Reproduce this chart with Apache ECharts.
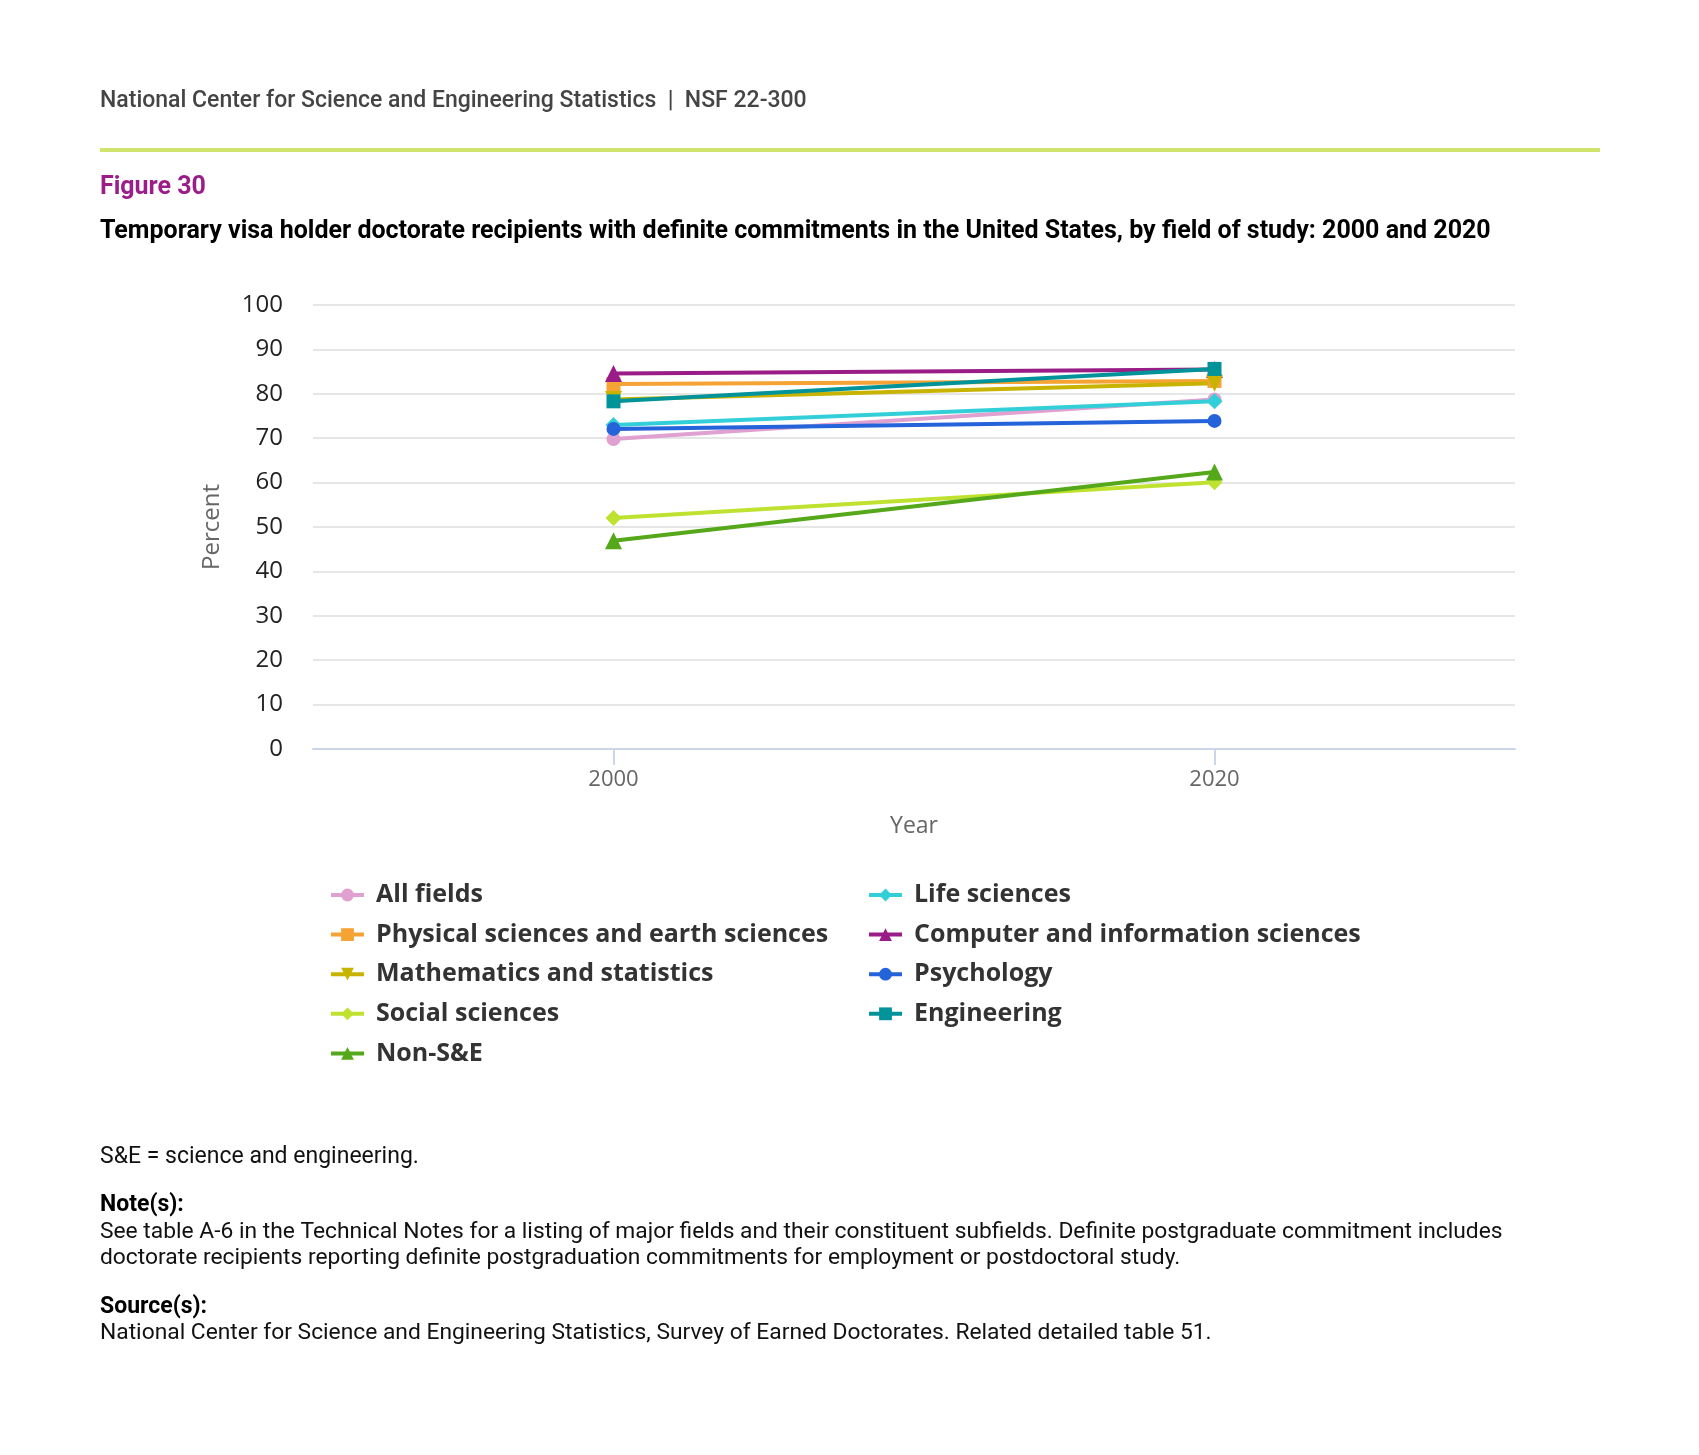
<!DOCTYPE html>
<html>
<head>
<meta charset="utf-8">
<script src="https://cdn.jsdelivr.net/npm/echarts@6/dist/echarts.min.js"></script>
<style>
html,body{margin:0;padding:0;background:#fff;}
#chart{width:1699px;height:1455px;}
</style>
</head>
<body>
<div id="chart"></div>
<script>
const categories = ['2000', '2020'];
const yTicks = [0, 10, 20, 30, 40, 50, 60, 70, 80, 90, 100];

const allFields = [69.8, 78.7];
const lifeSciences = [73.0, 78.3];
const physicalSciences = [82.2, 82.9];
const computerSciences = [84.6, 85.5];
const mathStatistics = [78.7, 82.4];
const psychology = [72.1, 73.9];
const socialSciences = [52.0, 60.1];
const engineering = [78.3, 85.6];
const nonSE = [46.9, 62.4];

const seriesDefs = [
  {name: 'All fields', data: allFields, color: '#E0A0D0', symbol: 'circle', rot: 0},
  {name: 'Life sciences', data: lifeSciences, color: '#33CFD9', symbol: 'diamond', rot: 0},
  {name: 'Physical sciences and earth sciences', data: physicalSciences, color: '#F5A334', symbol: 'rect', rot: 0},
  {name: 'Computer and information sciences', data: computerSciences, color: '#9A1D87', symbol: 'triangle', rot: 0},
  {name: 'Mathematics and statistics', data: mathStatistics, color: '#C8B400', symbol: 'triangle', rot: 180},
  {name: 'Psychology', data: psychology, color: '#2563DB', symbol: 'circle', rot: 0},
  {name: 'Social sciences', data: socialSciences, color: '#BFE231', symbol: 'diamond', rot: 0},
  {name: 'Engineering', data: engineering, color: '#00939A', symbol: 'rect', rot: 0},
  {name: 'Non-S&E', data: nonSE, color: '#55A81A', symbol: 'triangle', rot: 0}
];

const leftLegend = ['All fields', 'Physical sciences and earth sciences', 'Mathematics and statistics', 'Social sciences', 'Non-S&E'];
const rightLegend = ['Life sciences', 'Computer and information sciences', 'Psychology', 'Engineering'];

const chart = echarts.init(document.getElementById('chart'), null, {renderer: 'canvas'});

const legendCommon = {
  orient: 'vertical',
  itemWidth: 33,
  itemHeight: 16,
  itemGap: 11.6,
  lineStyle: {width: 4},
  textStyle: {fontFamily: 'Open Sans', fontWeight: 'bold', fontSize: 25, color: '#333', lineHeight: 28, padding: [0, 0, 0, 7]},
  selectedMode: false
};

const symSize = {triangle: 17, diamond: 16, rect: 14, circle: 14};

const option = {
  backgroundColor: '#fff',
  animation: false,
  grid: {left: 313, right: 184, top: 305, bottom: 706, containLabel: false},
  xAxis: {
    type: 'category',
    data: categories,
    boundaryGap: true,
    name: 'Year',
    nameLocation: 'middle',
    nameGap: 66,
    nameTextStyle: {fontFamily: 'Open Sans', fontSize: 23, color: '#666'},
    axisLine: {lineStyle: {color: '#ccd6eb', width: 2}},
    axisTick: {show: true, alignWithLabel: true, length: 16, lineStyle: {color: '#ccd6eb', width: 2}},
    axisLabel: {fontFamily: 'Open Sans', fontSize: 22, color: '#666', margin: 20},
    splitLine: {show: false}
  },
  yAxis: {
    type: 'value',
    min: 0, max: 100, interval: 10,
    name: 'Percent',
    nameLocation: 'middle',
    nameGap: 89,
    nameTextStyle: {fontFamily: 'Open Sans', fontSize: 24, color: '#666'},
    axisLine: {show: false},
    axisTick: {show: false},
    axisLabel: {fontFamily: 'Open Sans', fontSize: 24, color: '#222', margin: 30,
      formatter: v => yTicks.includes(v) ? String(v) : ''},
    splitLine: {lineStyle: {color: '#e6e6e6', width: 2}}
  },
  legend: [
    Object.assign({}, legendCommon, {left: 324, top: 876, data: leftLegend}),
    Object.assign({}, legendCommon, {left: 862, top: 876, data: rightLegend})
  ],
  series: seriesDefs.map(s => ({
    name: s.name,
    type: 'line',
    data: s.data,
    symbol: s.symbol,
    symbolRotate: s.rot,
    symbolSize: symSize[s.symbol],
    lineStyle: {color: s.color, width: 4},
    itemStyle: {color: s.color},
    color: s.color
  })),
  graphic: [
    {type: 'text', left: 100, top: 90, style: {text: 'National Center for Science and Engineering Statistics  |  NSF 22-300', font: '500 23px Roboto', fill: '#444'}},
    {type: 'rect', shape: {x: 100, y: 148, width: 1500, height: 4}, style: {fill: '#d0e36c'}},
    {type: 'text', left: 100, top: 175, style: {text: 'Figure 30', font: 'bold 25px Roboto', fill: '#9b1d8a'}},
    {type: 'text', left: 100, top: 219, style: {text: 'Temporary visa holder doctorate recipients with definite commitments in the United States, by field of study: 2000 and 2020', font: 'bold 25px Roboto', fill: '#000'}},
    {type: 'text', left: 100, top: 1146, style: {text: 'S&E = science and engineering.', font: '23px Roboto', fill: '#111'}},
    {type: 'text', left: 100, top: 1194, style: {text: 'Note(s):', font: 'bold 23px Roboto', fill: '#000'}},
    {type: 'text', left: 100, top: 1221, style: {text: 'See table A-6 in the Technical Notes for a listing of major fields and their constituent subfields. Definite postgraduate commitment includes', font: '22.8px Roboto', fill: '#111'}},
    {type: 'text', left: 100, top: 1247, style: {text: 'doctorate recipients reporting definite postgraduation commitments for employment or postdoctoral study.', font: '22.8px Roboto', fill: '#111'}},
    {type: 'text', left: 100, top: 1296, style: {text: 'Source(s):', font: 'bold 23px Roboto', fill: '#000'}},
    {type: 'text', left: 100, top: 1322, style: {text: 'National Center for Science and Engineering Statistics, Survey of Earned Doctorates. Related detailed table 51.', font: '22.8px Roboto', fill: '#111'}}
  ]
};
chart.setOption(option);
</script>
</body>
</html>
